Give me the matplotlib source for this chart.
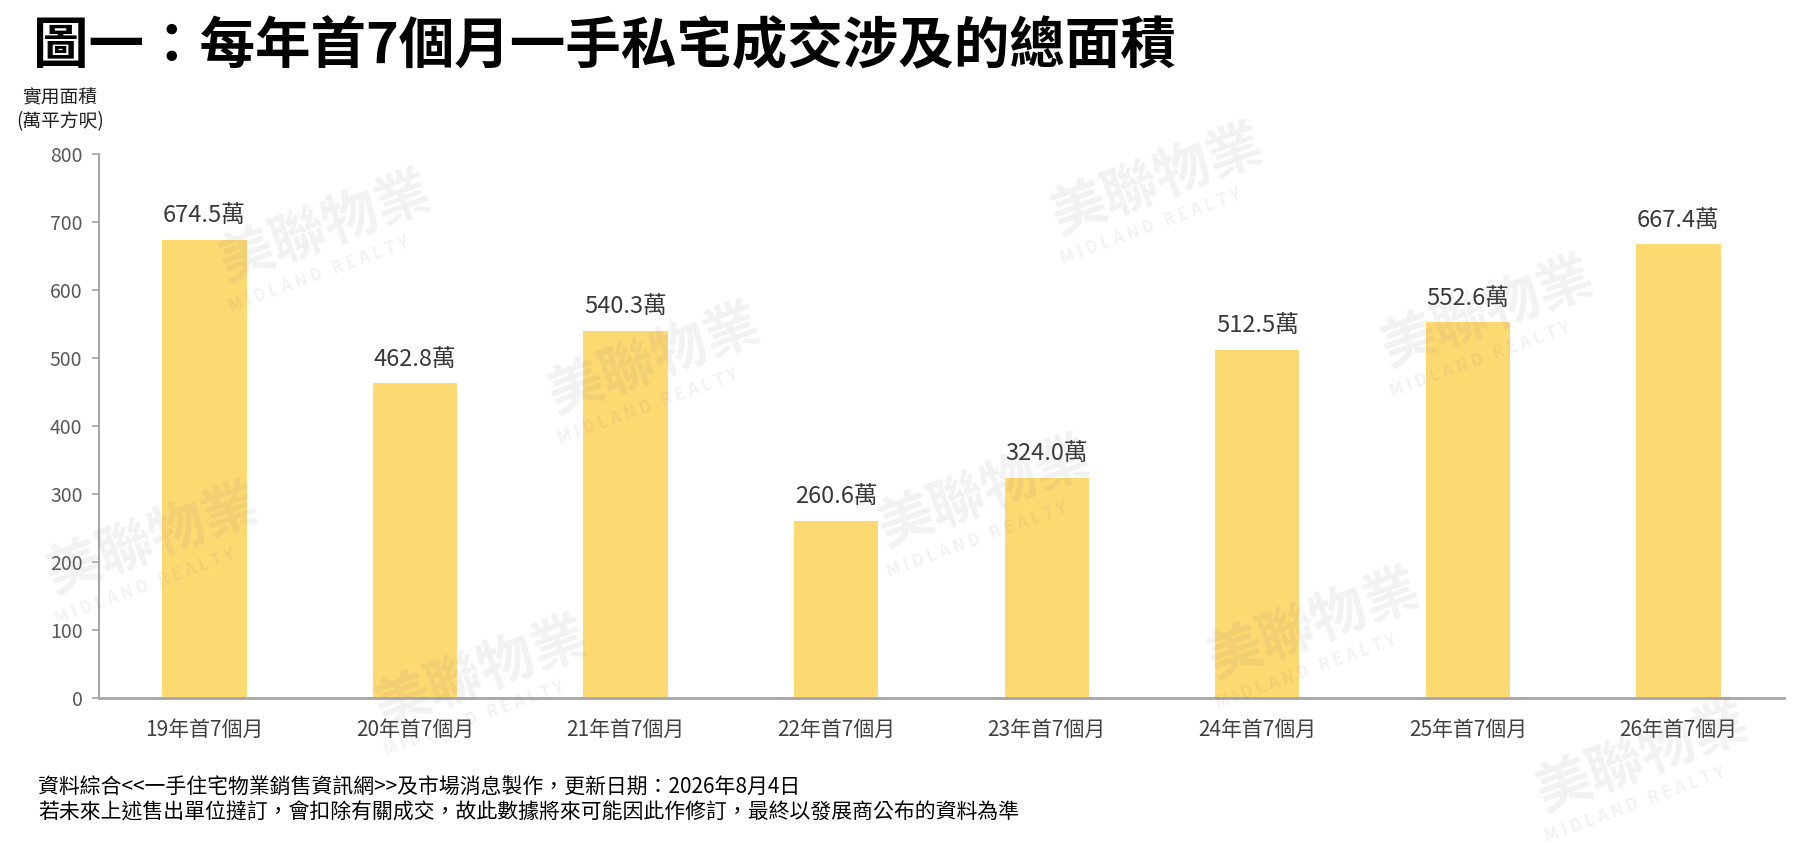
import matplotlib
matplotlib.use("Agg")
import matplotlib.pyplot as plt
import numpy as np

plt.rcParams['font.family'] = ['Noto Sans CJK TC', 'DejaVu Sans']

categories = ["19年首7個月", "20年首7個月", "21年首7個月", "22年首7個月",
              "23年首7個月", "24年首7個月", "25年首7個月", "26年首7個月"]
values = [674.5, 462.8, 540.3, 260.6, 324.0, 512.5, 552.6, 667.4]
yticks = [0, 100, 200, 300, 400, 500, 600, 700, 800]

title = "圖一：每年首7個月一手私宅成交涉及的總面積"
ylabel = "實用面積\n(萬平方呎)"
note1 = "資料綜合<<一手住宅物業銷售資訊網>>及市場消息製作，更新日期：2026年8月4日"
note2 = "若未來上述售出單位撻訂，會扣除有關成交，故此數據將來可能因此作修訂，最終以發展商公布的資料為準"

fig = plt.figure(figsize=(18.09, 8.44), dpi=100)
ax = fig.add_axes([0.0548, 0.1735, 0.986 - 0.0548, 0.817 - 0.1735])

x = np.arange(len(categories))
ax.bar(x, values, width=0.4, color='#FDD972', zorder=2)
for xi, v in zip(x, values):
    ax.annotate(f"{v:.1f}萬", (xi, v), xytext=(0, 9), textcoords='offset points',
                ha='center', va='bottom', fontsize=17, color='#383838', zorder=3)

ax.set_xlim(-0.5, len(categories) - 0.5)
ax.set_ylim(0, 800)
ax.set_yticks(yticks)
ax.set_xticks(x)
ax.set_xticklabels(categories)
ax.tick_params(axis='y', length=5, width=1.2, color='#A6A6A6', labelsize=14,
               labelcolor='#595959', pad=7)
ax.tick_params(axis='x', length=0, labelsize=15, labelcolor='#404040', pad=15)
for s in ['top', 'right']:
    ax.spines[s].set_visible(False)
ax.spines['left'].set_color('#A6A6A6')
ax.spines['left'].set_linewidth(1.5)
ax.spines['bottom'].set_color('#A6A6A6')
ax.spines['bottom'].set_linewidth(2)
ax.patch.set_alpha(0)

fig.text(0.018, 0.945, title, fontsize=40, fontweight='bold', ha='left', va='center',
         color='black')
fig.text(0.033, 0.87, ylabel, fontsize=13.5, ha='center', va='center', color='#202020',
         linespacing=1.2)
fig.text(0.021, 0.067, note1, fontsize=15, ha='left', va='center', color='black')
fig.text(0.021, 0.037, note2, fontsize=15, ha='left', va='center', color='black')

# faint watermark pattern (kept fully inside the figure)
wm_color = (0.5, 0.5, 0.5, 0.10)
for i in range(-3, 8):
    for j in range(-2, 5):
        px = 0.18 + i * 0.182 - j * 0.096
        py = 0.73 - i * 0.157 - j * 0.37
        if 0.08 < px < 0.93 and 0.10 < py < 0.90:
            fig.text(px, py, "美聯物業", fontsize=40, fontweight='bold', color=wm_color,
                     rotation=20, ha='center', va='center', zorder=0)
            fig.text(px - 0.004, py - 0.055, "M I D L A N D   R E A L T Y", fontsize=12,
                     fontweight='bold', color=wm_color, rotation=20, ha='center',
                     va='center', zorder=0)

fig.savefig("out.png", dpi=100)
